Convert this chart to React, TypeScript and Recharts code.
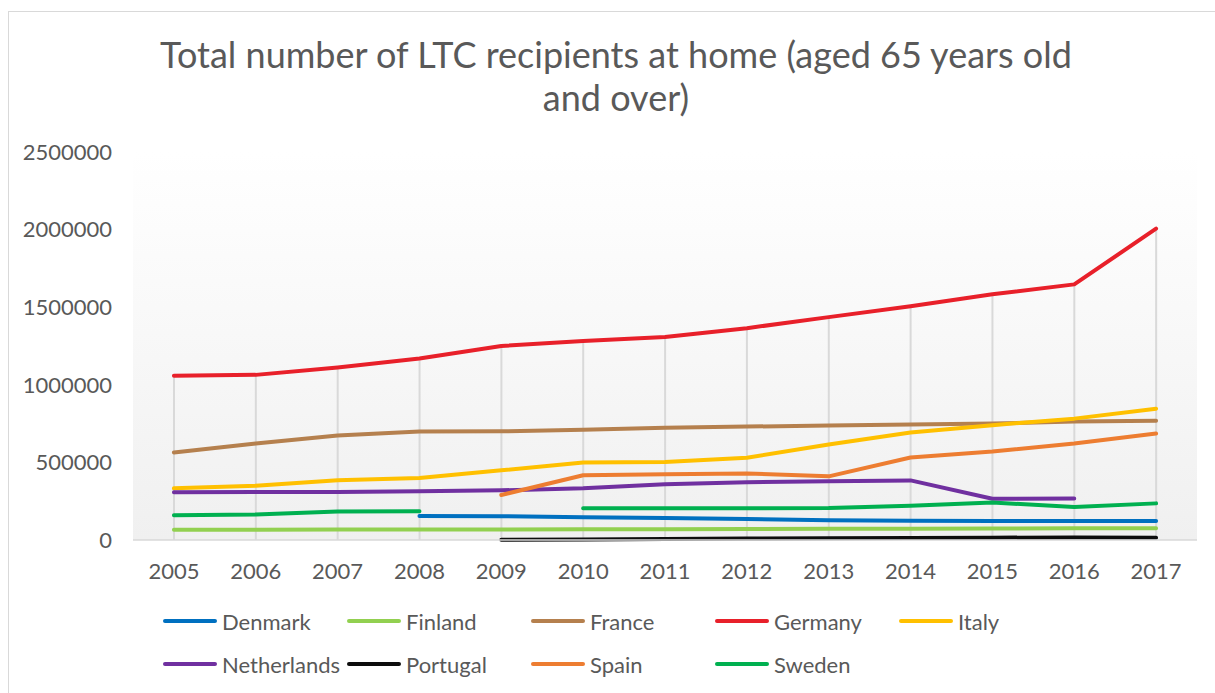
import React from 'react';
import { ComposedChart, Line, Bar, XAxis, YAxis, CartesianGrid } from 'recharts';

const years = ['2005', '2006', '2007', '2008', '2009', '2010', '2011', '2012', '2013', '2014', '2015', '2016', '2017'];
const denmark = [null, null, null, 154000, 153000, 147000, 141000, 135000, 128000, 124000, 122000, 122000, 122000];
const finland = [66000, 66000, 67000, 67000, 68000, 69000, 70000, 71000, 72000, 73000, 74000, 75000, 76000];
const france = [564000, 622000, 673000, 699000, 700000, 711000, 724000, 731000, 737000, 744000, 750000, 763000, 769000];
const germany = [1058000, 1064000, 1112000, 1170000, 1250000, 1282000, 1308000, 1365000, 1436000, 1506000, 1583000, 1647000, 2006000];
const italy = [333000, 350000, 385000, 400000, 449000, 500000, 502000, 530000, 615000, 692000, 740000, 782000, 846000];
const netherlands = [308000, 309000, 310000, 314000, 320000, 333000, 359000, 372000, 378000, 384000, 266000, 267000, null];
const portugal = [null, null, null, null, 2000, 4000, 7000, 9000, 11000, 13000, 15000, 16000, 14000];
const spain = [null, null, null, null, 290000, 417000, 423000, 429000, 410000, 532000, 570000, 622000, 686000];
const sweden = [160000, 165000, 184000, 186000, null, 205000, 205000, 205000, 206000, 220000, 242000, 212000, 236000];

const yTicks = [0, 500000, 1000000, 1500000, 2000000, 2500000];
const titleLines = ['Total number of LTC recipients at home (aged 65 years old', 'and over)'];

const seriesList = [
  { key: 'Denmark', values: denmark, color: '#0070C0' },
  { key: 'Finland', values: finland, color: '#92D050' },
  { key: 'France', values: france, color: '#B5804E' },
  { key: 'Germany', values: germany, color: '#E8202A' },
  { key: 'Italy', values: italy, color: '#FFC000' },
  { key: 'Netherlands', values: netherlands, color: '#7030A0' },
  { key: 'Portugal', values: portugal, color: '#0D0D0D' },
  { key: 'Spain', values: spain, color: '#ED7D31' },
  { key: 'Sweden', values: sweden, color: '#00B050' },
];

const data = years.map((year, i) => {
  const row: Record<string, any> = { year };
  let max = 0;
  seriesList.forEach((s) => {
    row[s.key] = s.values[i];
    if (s.values[i] != null && (s.values[i] as number) > max) max = s.values[i] as number;
  });
  row.dropLine = max;
  return row;
});

const FONT = 'Lato, "Open Sans", sans-serif';
const TEXT = '#595959';

const LegendBlock = () => {
  const rows = [seriesList.slice(0, 5), seriesList.slice(5)];
  return (
    <div style={{ position: 'absolute', left: 0, top: 606, width: 1215, height: 90 }}>
      {rows.map((row, r) => (
        <div key={r} style={{ position: 'absolute', top: r * 43, left: 0, height: 30 }}>
          {row.map((s, c) => (
            <div
              key={s.key}
              style={{ position: 'absolute', left: 163 + c * 184, top: 0, display: 'flex', alignItems: 'center', height: 30, whiteSpace: 'nowrap' }}
            >
              <div style={{ width: 54, height: 4, borderRadius: 2, background: s.color }} />
              <span style={{ marginLeft: 5, fontFamily: FONT, fontSize: 22, color: TEXT }}>{s.key}</span>
            </div>
          ))}
        </div>
      ))}
    </div>
  );
};

export default function App() {
  return (
    <div style={{ position: 'absolute', left: 0, top: 0, width: 1215, height: 693, background: '#fff', overflow: 'hidden' }}>
      <div style={{ position: 'absolute', left: 8, top: 11, width: 1220, height: 700, border: '1.5px solid #d9d9d9', boxSizing: 'border-box' }} />
      <div style={{ position: 'absolute', left: 0, top: 33, width: 1232, textAlign: 'center', fontFamily: FONT, fontSize: 36, color: TEXT, lineHeight: '43px' }}>
        {titleLines.map((t) => (
          <div key={t}>{t}</div>
        ))}
      </div>
      <ComposedChart
        width={1215}
        height={693}
        data={data}
        margin={{ top: 152, right: 18, bottom: 113, left: 0 }}
        style={{ position: 'absolute', left: 0, top: 0 }}
      >
        <defs>
          <linearGradient id="plotBg" x1="0" y1="0" x2="0" y2="1">
            <stop offset="0%" stopColor="#ffffff" />
            <stop offset="100%" stopColor="#f0f0f0" />
          </linearGradient>
        </defs>
        <CartesianGrid horizontal={false} vertical={false} fill="url(#plotBg)" />
        <XAxis
          dataKey="year"
          height={40}
          tickSize={0}
          tickMargin={23}
          tickLine={false}
          axisLine={{ stroke: '#d9d9d9', strokeWidth: 1.5 }}
          tick={{ fill: TEXT, fontSize: 22, fontFamily: FONT }}
          interval={0}
        />
        <YAxis
          width={133}
          domain={[0, 2500000]}
          ticks={yTicks}
          tickSize={0}
          tickMargin={21}
          tickLine={false}
          axisLine={false}
          tick={{ fill: TEXT, fontSize: 22, fontFamily: FONT }}
          interval={0}
        />
        <Bar dataKey="dropLine" barSize={2} fill="#d9d9d9" isAnimationActive={false} legendType="none" />
        {seriesList.map((s) => (
          <Line
            key={s.key}
            type="linear"
            dataKey={s.key}
            stroke={s.color}
            strokeWidth={4}
            strokeLinecap="round"
            strokeLinejoin="round"
            dot={false}
            activeDot={false}
            connectNulls={false}
            isAnimationActive={false}
          />
        ))}
      </ComposedChart>
      <LegendBlock />
    </div>
  );
}
